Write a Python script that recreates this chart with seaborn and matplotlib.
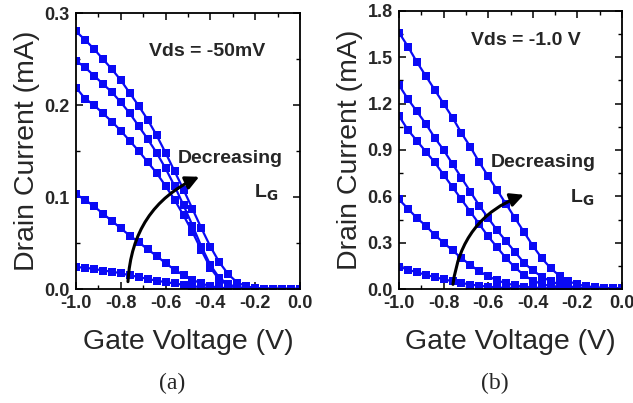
import matplotlib
matplotlib.use("Agg")
import matplotlib.pyplot as plt
import numpy as np
import pandas as pd
import seaborn as sns
from matplotlib.ticker import MultipleLocator

# ---------------- data ----------------
gate_voltage = [-1.00, -0.96, -0.92, -0.88, -0.84, -0.80, -0.76, -0.72, -0.68,
                -0.64, -0.60, -0.56, -0.52, -0.48, -0.44, -0.40, -0.36, -0.32,
                -0.28, -0.24, -0.20, -0.16, -0.12, -0.08, -0.04, 0.00]

# (a) Vds = -50 mV, drain current in mA
ia_1 = [0.280, 0.271, 0.261, 0.250, 0.239, 0.227, 0.213, 0.199, 0.184, 0.167,
        0.148, 0.128, 0.108, 0.087, 0.066, 0.046, 0.029, 0.016, 0.007, 0.003,
        0.001, 0.0005, 0.0003, 0.0002, 0.0001, 0.0001]
ia_2 = [0.248, 0.241, 0.232, 0.223, 0.214, 0.203, 0.191, 0.177, 0.163, 0.148,
        0.131, 0.112, 0.091, 0.069, 0.046, 0.026, 0.012, 0.005, 0.002, 0.001,
        0.0005, 0.0003, 0.0002, 0.0001, 0.0001, 0.0]
ia_3 = [0.219, 0.207, 0.200, 0.191, 0.182, 0.172, 0.161, 0.150, 0.138, 0.126,
        0.112, 0.097, 0.080, 0.062, 0.042, 0.023, 0.010, 0.004, 0.0015, 0.0008,
        0.0004, 0.0002, 0.0001, 0.0001, 0.0, 0.0]
ia_4 = [0.103, 0.097, 0.090, 0.082, 0.074, 0.066, 0.058, 0.051, 0.043, 0.036,
        0.028, 0.021, 0.015, 0.010, 0.006, 0.003, 0.0015, 0.0008, 0.0004, 0.0002,
        0.0001, 0.0001, 0.0, 0.0, 0.0, 0.0]
ia_5 = [0.024, 0.023, 0.022, 0.020, 0.019, 0.017, 0.015, 0.013, 0.011, 0.009,
        0.0075, 0.006, 0.0045, 0.003, 0.002, 0.0012, 0.0007, 0.0004, 0.0002, 0.0001,
        0.0001, 0.0, 0.0, 0.0, 0.0, 0.0]

# (b) Vds = -1.0 V, drain current in mA
ib_1 = [1.66, 1.57, 1.47, 1.38, 1.29, 1.20, 1.11, 1.01, 0.92, 0.82,
        0.73, 0.64, 0.55, 0.46, 0.37, 0.28, 0.20, 0.135, 0.085, 0.050,
        0.030, 0.018, 0.011, 0.007, 0.005, 0.004]
ib_2 = [1.32, 1.23, 1.15, 1.07, 0.98, 0.90, 0.81, 0.72, 0.63, 0.54,
        0.46, 0.38, 0.31, 0.24, 0.17, 0.12, 0.08, 0.05, 0.03, 0.018,
        0.010, 0.006, 0.004, 0.003, 0.002, 0.002]
ib_3 = [1.12, 1.03, 0.96, 0.89, 0.82, 0.74, 0.66, 0.58, 0.50, 0.42,
        0.34, 0.27, 0.20, 0.14, 0.09, 0.055, 0.032, 0.018, 0.010, 0.006,
        0.004, 0.003, 0.002, 0.002, 0.001, 0.001]
ib_4 = [0.58, 0.52, 0.46, 0.41, 0.35, 0.30, 0.25, 0.20, 0.155, 0.115,
        0.082, 0.056, 0.037, 0.024, 0.015, 0.010, 0.006, 0.004, 0.003, 0.002,
        0.002, 0.001, 0.001, 0.001, 0.001, 0.001]
ib_5 = [0.145, 0.125, 0.108, 0.092, 0.077, 0.063, 0.050, 0.039, 0.029, 0.021,
        0.015, 0.010, 0.007, 0.005, 0.003, 0.002, 0.0015, 0.001, 0.001, 0.001,
        0.0005, 0.0005, 0.0005, 0.0005, 0.0005, 0.0005]

xticks = [-1.0, -0.8, -0.6, -0.4, -0.2, 0.0]
yticks_a = [0.0, 0.1, 0.2, 0.3]
yticks_b = [0.0, 0.3, 0.6, 0.9, 1.2, 1.5, 1.8]


def long_frame(curves):
    rows = []
    for k, c in enumerate(curves):
        rows.append(pd.DataFrame({"Vg": gate_voltage, "Id": c, "curve": f"c{k}"}))
    return pd.concat(rows, ignore_index=True)


df_a = long_frame([ia_1, ia_2, ia_3, ia_4, ia_5])
df_b = long_frame([ib_1, ib_2, ib_3, ib_4, ib_5])

# ---------------- style ----------------
sns.set_theme(style="ticks")
plt.rcParams["font.family"] = ["Liberation Sans", "DejaVu Sans"]

BLUE = "#0a0af5"
W, H = 633, 403
fig = plt.figure(figsize=(W / 100, H / 100), dpi=100)

ax_a = fig.add_axes([76 / W, 1 - 289 / H, 224 / W, 276 / H])
ax_b = fig.add_axes([399 / W, 1 - 289 / H, 223 / W, 278 / H])


def draw(ax, df, ymax, ymin, yt, vds_text, vds_xy, dec_xy, lg_xy, arr_tail, arr_head):
    sns.lineplot(data=df, x="Vg", y="Id", hue="curve", palette=[BLUE] * 5,
                 marker="s", markersize=5.4, markeredgewidth=0, linewidth=1.6,
                 legend=False, ax=ax, estimator=None, sort=True)
    ax.set_xlim(-1.0, 0.0)
    ax.set_ylim(0.0, ymax)
    ax.set_xticks(xticks)
    ax.set_yticks(yt)
    ax.xaxis.set_minor_locator(MultipleLocator(0.1))
    ax.yaxis.set_minor_locator(MultipleLocator(ymin))
    ax.set_xticklabels([f"{v:.1f}" for v in xticks], fontweight="bold", fontsize=13)
    ax.set_yticklabels([f"{v:.1f}" for v in yt], fontweight="bold", fontsize=13)
    ax.tick_params(which="both", direction="in", top=True, right=True, color="black")
    ax.tick_params(which="major", length=5, width=1.1)
    ax.tick_params(which="minor", length=3, width=1.0)
    ax.tick_params(axis="x", which="major", pad=4.5)
    ax.tick_params(axis="y", which="major", pad=4.5)
    for s in ax.spines.values():
        s.set_visible(True)
        s.set_color("black")
        s.set_linewidth(1.3)
    ax.set_xlabel("Gate Voltage (V)", fontsize=20.5, labelpad=12)
    ax.set_ylabel("Drain Current (mA)", fontsize=20.5, labelpad=3)
    ax.text(vds_xy[0], vds_xy[1], vds_text, fontsize=14, fontweight="bold",
            ha="center", va="center")
    ax.text(dec_xy[0], dec_xy[1], "Decreasing", fontsize=14, fontweight="bold",
            ha="center", va="center")
    ax.text(lg_xy[0], lg_xy[1], r"L$_{\mathbf{G}}$", fontsize=14, fontweight="bold",
            ha="center", va="center")
    ax.annotate("", xy=arr_head, xytext=arr_tail,
                arrowprops=dict(arrowstyle="-|>", color="black", lw=2.2,
                                mutation_scale=20, shrinkA=0, shrinkB=0,
                                connectionstyle="arc3,rad=-0.3"))


draw(ax_a, df_a, 0.3, 0.05, yticks_a, "Vds = -50mV",
     (-0.415, 0.258), (-0.31, 0.142), (-0.15, 0.105),
     (-0.768, 0.008), (-0.45, 0.122))
draw(ax_b, df_b, 1.8, 0.15, yticks_b, "Vds = -1.0 V",
     (-0.43, 1.61), (-0.355, 0.82), (-0.18, 0.59),
     (-0.758, 0.03), (-0.44, 0.61))

fig.text(172 / W, 1 - 383 / H, "(a)", family=["Liberation Serif", "DejaVu Serif"],
         fontsize=17, ha="center", va="center")
fig.text(495 / W, 1 - 383 / H, "(b)", family=["Liberation Serif", "DejaVu Serif"],
         fontsize=17, ha="center", va="center")

fig.savefig("out.png", dpi=100)
